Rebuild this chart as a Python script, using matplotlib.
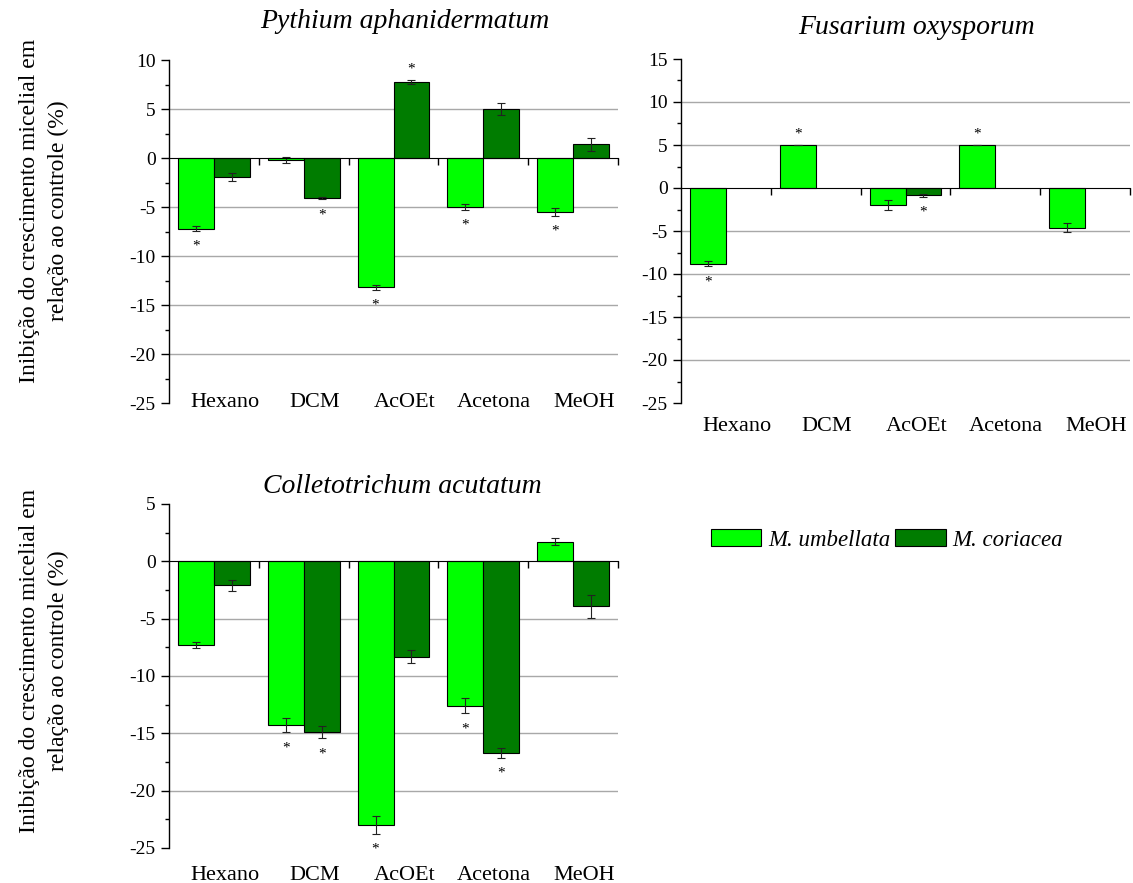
import numpy as np
import matplotlib
matplotlib.use("Agg")
import matplotlib.pyplot as plt
from matplotlib.patches import Patch
from matplotlib.ticker import AutoMinorLocator
from matplotlib.transforms import blended_transform_factory

plt.rcParams["font.family"] = ["Liberation Serif", "DejaVu Serif"]
plt.rcParams["axes.unicode_minus"] = False

solventes = ["Hexano", "DCM", "AcOEt", "Acetona", "MeOH"]
especies = ["M. umbellata", "M. coriacea"]

# Pythium aphanidermatum
pyt_umb = [-7.2, -0.2, -13.2, -5.0, -5.5]
pyt_umb_err = [0.25, 0.35, 0.25, 0.3, 0.4]
pyt_cor = [-1.9, -4.1, 7.8, 5.0, 1.4]
pyt_cor_err = [0.4, 0.1, 0.2, 0.6, 0.65]
pyt_umb_sig = [True, False, True, True, True]
pyt_cor_sig = [False, True, True, False, False]

# Fusarium oxysporum (sem dados de M. coriacea em alguns extratos)
fus_umb = [-8.8, 5.0, -2.0, 5.0, -4.6]
fus_umb_err = [0.3, 0.0, 0.6, 0.0, 0.5]
fus_cor = [np.nan, np.nan, -0.85, np.nan, np.nan]
fus_cor_err = [np.nan, np.nan, 0.15, np.nan, np.nan]
fus_umb_sig = [True, True, False, True, False]
fus_cor_sig = [False, False, True, False, False]

# Colletotrichum acutatum
col_umb = [-7.3, -14.3, -23.0, -12.6, 1.7]
col_umb_err = [0.25, 0.6, 0.75, 0.65, 0.3]
col_cor = [-2.1, -14.9, -8.3, -16.7, -3.9]
col_cor_err = [0.45, 0.55, 0.6, 0.45, 1.0]
col_umb_sig = [False, True, True, True, False]
col_cor_sig = [False, True, False, True, False]

CLARO = "#00ff00"
ESCURO = "#007c00"
W, H = 1133, 883


def estrela(ax, x, fim, sinal):
    # asterisco acima/abaixo da barra de erro (offsets em pixels -> pontos)
    dy = 7.0 if sinal > 0 else -19.0
    ax.annotate("*", xy=(x, fim), xytext=(0, dy * 0.72), textcoords="offset points",
                ha="center", va="baseline", fontsize=11)


def painel(ax, titulo, tpos, umb, umb_err, cor, cor_err, umb_sig, cor_sig,
           ylim, yticks, rot_y):
    x = np.arange(len(solventes))
    w = 0.4
    ax.bar(x - w / 2, umb, w, color=CLARO, edgecolor="black", linewidth=0.8, zorder=2)
    ax.bar(x + w / 2, cor, w, color=ESCURO, edgecolor="black", linewidth=0.8, zorder=2)
    ax.errorbar(x - w / 2, umb, yerr=umb_err, fmt="none", ecolor="#222222",
                elinewidth=0.8, capsize=3, capthick=0.8, zorder=3)
    ax.errorbar(x + w / 2, cor, yerr=cor_err, fmt="none", ecolor="#222222",
                elinewidth=0.8, capsize=3, capthick=0.8, zorder=3)

    for xs, vals, errs, sig in [(x - w / 2, umb, umb_err, umb_sig),
                                (x + w / 2, cor, cor_err, cor_sig)]:
        for xi, v, e, s in zip(xs, vals, errs, sig):
            if s:
                sinal = 1 if v > 0 else -1
                estrela(ax, xi, v + sinal * e, sinal)

    ax.set_xlim(-0.5, 4.5)
    ax.set_ylim(*ylim)
    ax.set_yticks(yticks)
    ax.yaxis.set_minor_locator(AutoMinorLocator(2))
    ax.set_xticks([0.5, 1.5, 2.5, 3.5, 4.5])
    ax.set_xticklabels([])
    ax.tick_params(axis="x", direction="out", length=5, width=1)
    ax.tick_params(axis="y", which="major", direction="out", length=6, width=1,
                   labelsize=14)
    ax.tick_params(axis="y", which="minor", direction="out", length=3, width=1)

    for lado in ["top", "right"]:
        ax.spines[lado].set_visible(False)
    ax.spines["bottom"].set_position(("data", 0))
    ax.spines["bottom"].set_zorder(4)
    ax.spines["left"].set_linewidth(1)

    # linhas de grade só nos valores internos
    for yv in yticks:
        if ylim[0] < yv < ylim[1] and yv != 0:
            ax.axhline(yv, color="#a8a8a8", linewidth=1.0, zorder=0)

    trans = blended_transform_factory(ax.transData, ax.transAxes)
    for i, nome in enumerate(solventes):
        ax.text(i + 0.12, rot_y, nome, transform=trans, ha="center",
                va="baseline", fontsize=16)

    fig.text(tpos[0] / W, 1 - tpos[1] / H, titulo, ha="center", va="baseline",
             fontsize=20, fontstyle="italic")


fig = plt.figure(figsize=(W / 100, H / 100), dpi=100)

ax1 = fig.add_axes([169 / W, 1 - 403 / H, 449 / W, 343 / H])
ax2 = fig.add_axes([681 / W, 1 - 403 / H, 449 / W, 344 / H])
ax3 = fig.add_axes([169 / W, 1 - 848 / H, 449 / W, 344 / H])

painel(ax1, "Pythium aphanidermatum", (405, 28), pyt_umb, pyt_umb_err, pyt_cor,
       pyt_cor_err, pyt_umb_sig, pyt_cor_sig, (-25, 10), np.arange(-25, 11, 5), -0.012)
painel(ax2, "Fusarium oxysporum", (916, 34), fus_umb, fus_umb_err, fus_cor,
       fus_cor_err, fus_umb_sig, fus_cor_sig, (-25, 15), np.arange(-25, 16, 5), -0.082)
painel(ax3, "Colletotrichum acutatum", (402, 493), col_umb, col_umb_err, col_cor,
       col_cor_err, col_umb_sig, col_cor_sig, (-25, 5), np.arange(-25, 6, 5), -0.093)

rotulo = "Inibição do crescimento micelial em\nrelação ao controle (%)"
for yc in (211, 661):
    fig.text(44 / W, 1 - yc / H, rotulo, rotation=90, ha="center", va="center",
             multialignment="center", fontsize=17, linespacing=1.45)

handles = [Patch(facecolor=CLARO, edgecolor="black", linewidth=0.8),
           Patch(facecolor=ESCURO, edgecolor="black", linewidth=0.8)]
fig.legend(handles, especies, loc="center left", bbox_to_anchor=(711 / W, 1 - 540 / H),
           ncol=2, frameon=False, borderpad=0, borderaxespad=0, handlelength=2.2,
           handleheight=0.75, handletextpad=0.3, columnspacing=0.2,
           prop={"size": 16.5, "style": "italic"})

fig.savefig("out.png", dpi=100)
